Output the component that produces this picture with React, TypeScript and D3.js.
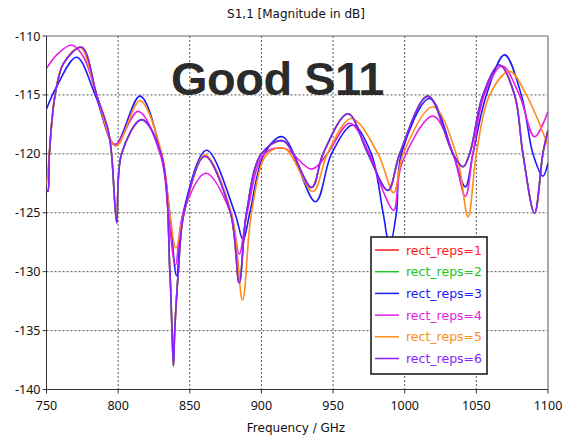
import React from "react";
import * as d3 from "d3";

const title = "S1,1 [Magnitude in dB]";
const xLabel = "Frequency / GHz";
const overlayText = "Good S11";
const xTicks = [750, 800, 850, 900, 950, 1000, 1050, 1100];
const yTicks = [-110, -115, -120, -125, -130, -135, -140];
const seriesNames = ["rect_reps=1", "rect_reps=2", "rect_reps=3", "rect_reps=4", "rect_reps=5", "rect_reps=6"];
const seriesColors = ["#ff1a1a", "#22c422", "#1a1aff", "#e61ee6", "#ff8c1a", "#8c1eff"];

// rect_reps=3 (blue)
const f3 = [750, 757, 771, 784, 797.8, 815.2, 830, 836, 840.8, 845.4, 861.7, 881.4, 887.2, 891.9, 902, 914.7, 937.7, 948.9, 963.9, 976.7, 984.9, 989.5, 994.2, 997.7, 1017.4, 1033.7, 1042.3, 1047.6, 1057, 1069.7, 1081.4, 1089.5, 1096.4, 1100];
const v3 = [-116.2, -114.3, -111.8, -115.0, -119.25, -115.1, -120, -125, -130.35, -125, -119.7, -125, -127.3, -125, -120, -118.55, -124.07, -120, -117.55, -120, -125, -127.8, -125, -120, -115.3, -120, -122.8, -120, -115, -111.6, -115, -120, -121.9, -120.8];

// rect_reps=4 (magenta)
const f4 = [750, 758, 767.6, 776, 785, 798, 814, 830, 835, 840, 845.5, 861.2, 878.5, 884.5, 890, 902, 916.3, 935, 946, 961.6, 975.4, 985, 992.3, 998, 1019.7, 1033.7, 1042.3, 1047.6, 1055.5, 1068.1, 1080, 1090.6, 1100];
const v4 = [-112.75, -111.5, -110.76, -111.8, -115.0, -119.2, -116.4, -120.3, -125, -129.45, -125, -121.65, -125, -128.5, -125, -120, -119.55, -121.3, -120, -117.4, -120, -123.2, -124.8, -120.8, -116.8, -120, -123.6, -120, -115, -112.55, -115, -118.55, -116.4];

// rect_reps=5 (orange)
const f5 = [750, 752, 756, 762, 773.4, 785, 798.5, 815.2, 830.5, 836, 840.3, 846, 860.5, 879, 886.8, 893.1, 904, 916.3, 936, 946, 962.8, 981.4, 992.3, 998.9, 1019.7, 1036, 1044.2, 1050, 1059.3, 1073.2, 1084.9, 1100];
const v5 = [-122.65, -120, -115, -112.3, -110.96, -115.0, -119.35, -115.5, -120, -125, -128.0, -125, -120.1, -125, -132.4, -125, -120, -119.55, -123.2, -120, -117.0, -120, -123.3, -120, -116.0, -120, -125.35, -120, -115, -113.0, -115, -119.3];

// rect_reps=6 (purple)
const f6 = [750, 751, 752, 756, 762, 774.5, 785, 793, 795.4, 799, 802.4, 816.4, 830, 836.1, 837.6, 838.6, 839.5, 842, 846, 860.5, 878.4, 884.5, 889.6, 900, 915.1, 935, 943, 960.4, 974.4, 988.3, 996.5, 1016.2, 1033.7, 1040.7, 1045.3, 1054.6, 1066.2, 1076.7, 1082.5, 1090.6, 1096.4, 1100];
const v6 = [-123.0, -123.2, -120, -115, -112.3, -110.96, -115.0, -118.0, -120, -125.85, -120, -117.1, -120, -130, -135, -138.0, -135, -130, -125, -120.2, -125, -130.95, -125, -120, -118.9, -122.85, -120, -116.6, -120, -123.1, -120, -115.1, -120, -121.1, -120, -115, -112.46, -115, -120, -125.05, -120, -118.0];

// rect_reps=1 and 2 are fully covered by rect_reps=6 in the reference
const f1 = f6;
const v1 = v6;
const f2 = f6;
const v2 = v6;

const freqs = [f1, f2, f3, f4, f5, f6];
const values = [v1, v2, v3, v4, v5, v6];

const W = 562;
const H = 438;
const L = 46.5;
const R = 548;
const T = 36;
const B = 389.5;
const FONT = "'Noto Sans', 'DejaVu Sans', sans-serif";
const WIDE = "'DejaVu Sans', 'Noto Sans', sans-serif";

export default function App() {
  const x = d3.scaleLinear().domain([750, 1100]).range([L, R]);
  const y = d3.scaleLinear().domain([-140, -110]).range([B, T]);
  const line = d3
    .line<[number, number]>()
    .x((d) => x(d[0]))
    .y((d) => y(d[1]))
    .curve(d3.curveCatmullRom.alpha(0.5));

  const legX = 371;
  const legY = 237;
  const legW = 116;
  const legH = 137;
  const rowH = 21.7;

  return (
    <svg width={W} height={H} style={{ position: "absolute", left: 0, top: 0, background: "#fff" }}>
      <defs>
        <clipPath id="plot">
          <rect x={L} y={T} width={R - L} height={B - T} />
        </clipPath>
      </defs>
      <rect x={0} y={0} width={W} height={H} fill="#fff" />
      <text x={296} y={18} textAnchor="middle" fontFamily={WIDE} fontSize={12} fill="#111">
        {title}
      </text>
      {/* grid */}
      {xTicks.slice(1, -1).map((t) => (
        <line key={"gx" + t} x1={x(t)} x2={x(t)} y1={T} y2={B} stroke="#555" strokeWidth={1} strokeDasharray="2,2" />
      ))}
      {yTicks.slice(1, -1).map((t) => (
        <line key={"gy" + t} x1={L} x2={R} y1={y(t)} y2={y(t)} stroke="#555" strokeWidth={1} strokeDasharray="2,2" />
      ))}
      {/* frame */}
      <line x1={L} x2={R} y1={T} y2={T} stroke="#666" strokeWidth={1} />
      <line x1={R} x2={R} y1={T} y2={B} stroke="#aaa" strokeWidth={2} />
      <line x1={L} x2={L} y1={T} y2={B} stroke="#333" strokeWidth={1} />
      <line x1={L} x2={R} y1={B} y2={B} stroke="#333" strokeWidth={1} />
      {yTicks.map((t) => (
        <g key={"yt" + t}>
          <line x1={L - 4} x2={L} y1={y(t)} y2={y(t)} stroke="#333" />
          <text x={L - 6} y={y(t) + 4.5} textAnchor="end" fontFamily={FONT} fontSize={12.5} fill="#111">
            {t}
          </text>
        </g>
      ))}
      {xTicks.map((t) => (
        <g key={"xt" + t}>
          <line x1={x(t)} x2={x(t)} y1={B} y2={B + 4} stroke="#333" />
          <text x={x(t)} y={410} textAnchor="middle" fontFamily={FONT} fontSize={12.5} fill="#111">
            {t}
          </text>
        </g>
      ))}
      <text x={296} y={432} textAnchor="middle" fontFamily={WIDE} fontSize={12} fill="#111">
        {xLabel}
      </text>
      {/* curves */}
      <g clipPath="url(#plot)">
        {freqs.map((fs, i) => (
          <path
            key={"s" + i}
            d={line(fs.map((f, j) => [f, values[i][j]] as [number, number])) || ""}
            fill="none"
            stroke={seriesColors[i]}
            strokeWidth={1.6}
          />
        ))}
      </g>
      <text
        x={171}
        y={95}
        fontFamily="'Liberation Sans', Arial, sans-serif"
        fontWeight="bold"
        fontSize={47}
        fill="#2b2b2b"
        letterSpacing={-0.5}
      >
        {overlayText}
      </text>
      {/* legend */}
      <rect x={legX} y={legY} width={legW} height={legH} fill="#fff" stroke="#111" strokeWidth={1.5} />
      {seriesNames.map((n, i) => (
        <g key={"lg" + i}>
          <line
            x1={legX + 4}
            x2={legX + 28}
            y1={legY + 13 + i * rowH}
            y2={legY + 13 + i * rowH}
            stroke={seriesColors[i]}
            strokeWidth={1.5}
          />
          <text x={legX + 35} y={legY + 17.5 + i * rowH} fontFamily={WIDE} fontSize={12.5} fill={seriesColors[i]}>
            {n}
          </text>
        </g>
      ))}
    </svg>
  );
}
